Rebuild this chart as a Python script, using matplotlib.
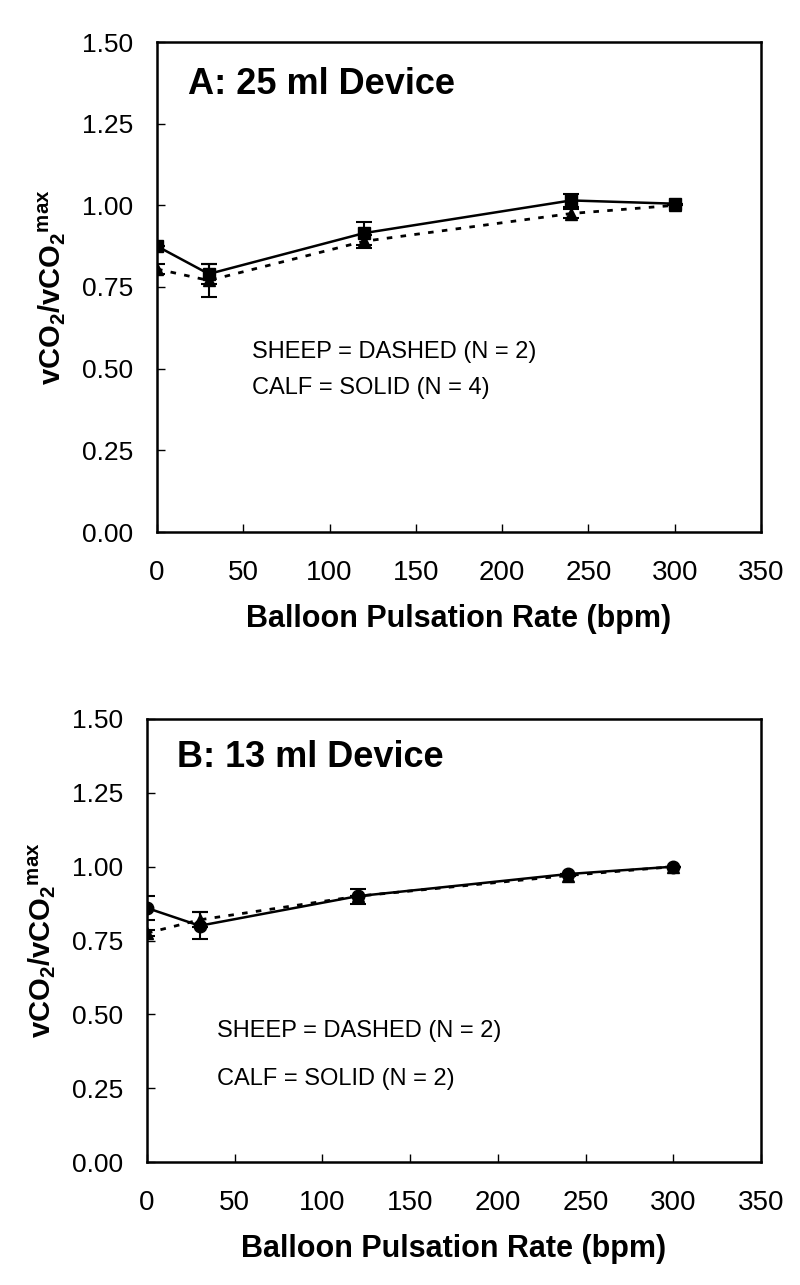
import matplotlib
matplotlib.use('Agg')
import matplotlib.pyplot as plt
import numpy as np

plt.rcParams['font.family'] = ['Liberation Sans', 'DejaVu Sans']
plt.rcParams['mathtext.default'] = 'regular'

# Data
rate = [0, 30, 120, 240, 300]

# Panel A: 25 ml device
a_calf = [0.875, 0.79, 0.915, 1.015, 1.005]
a_calf_err = [0.0, 0.03, 0.035, 0.02, 0.0]
a_sheep = [0.805, 0.77, 0.89, 0.975, 1.00]
a_sheep_err = [0.015, 0.05, 0.02, 0.015, 0.0]

# Panel B: 13 ml device
b_calf = [0.86, 0.80, 0.90, 0.975, 1.00]
b_calf_err = [0.04, 0.045, 0.0, 0.0, 0.0]
b_sheep = [0.775, 0.82, 0.90, 0.97, 1.00]
b_sheep_err = [0.01, 0.025, 0.025, 0.0, 0.0]

yticks = [0.00, 0.25, 0.50, 0.75, 1.00, 1.25, 1.50]
xticks = [0, 50, 100, 150, 200, 250, 300, 350]

fig = plt.figure(figsize=(8, 12.85), dpi=100)
W, H = 800, 1285


def add_axes(left, right, top, bottom):
    return fig.add_axes([left / W, 1 - bottom / H, (right - left) / W, (bottom - top) / H])


ax_a = add_axes(157, 761, 42, 532)
ax_b = add_axes(147, 761, 719, 1162)

panels = [
    (ax_a, a_calf, a_calf_err, a_sheep, a_sheep_err, 's', '^', 'A: 25 ml Device',
     18, (55, 0.55), (55, 0.44), 4),
    (ax_b, b_calf, b_calf_err, b_sheep, b_sheep_err, 'o', '^', 'B: 13 ml Device',
     17, (40, 0.445), (40, 0.28), 2),
]

for ax, calf, calf_err, sheep, sheep_err, cm, sm, title, tx, sheep_pos, calf_pos, n_calf in panels:
    # sheep dashed
    ax.errorbar(rate, sheep, yerr=sheep_err, color='black', linestyle=(0, (2, 3)),
                linewidth=2, marker=sm, markersize=8, capsize=6, elinewidth=1.5,
                capthick=1.5, zorder=3)
    # calf solid
    ax.errorbar(rate, calf, yerr=calf_err, color='black', linestyle='-',
                linewidth=1.8, marker=cm, markersize=9, capsize=6, elinewidth=1.5,
                capthick=1.5, zorder=4)

    ax.set_xlim(0, 350)
    ax.set_ylim(0, 1.5)
    ax.set_xticks(xticks)
    ax.set_yticks(yticks)
    ax.set_yticklabels([f'{v:.2f}' for v in yticks])
    ax.tick_params(direction='in', length=6, width=1)
    ax.tick_params(axis='y', pad=17, labelsize=19)
    ax.tick_params(axis='x', pad=20, labelsize=20)
    for sp in ax.spines.values():
        sp.set_linewidth(1.8)

    ax.set_xlabel('Balloon Pulsation Rate (bpm)', fontsize=22, fontweight='bold', labelpad=13)
    ax.set_ylabel('vCO$_2$/vCO$_2$$^{max}$', fontsize=21, fontweight='bold', labelpad=10)

    ax.text(tx, 1.37, title, fontsize=26, fontweight='bold', va='center', ha='left')
    ax.text(sheep_pos[0], sheep_pos[1], 'SHEEP = DASHED (N = 2)', fontsize=17,
            va='center', ha='left')
    ax.text(calf_pos[0], calf_pos[1], f'CALF = SOLID (N = {n_calf})', fontsize=17,
            va='center', ha='left')

plt.savefig('out.png', dpi=100)
